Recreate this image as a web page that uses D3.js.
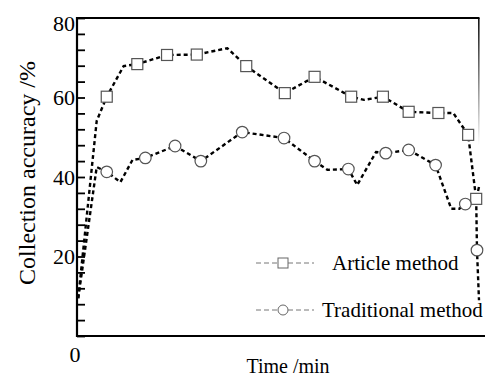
<!DOCTYPE html>
<html>
<head>
<meta charset="utf-8">
<script src="https://cdn.jsdelivr.net/npm/d3@7"></script>
<style>
  body { margin: 0; background: #fff; }
  text { font-family: "Liberation Serif", "Times New Roman", serif; fill: #000; }
</style>
</head>
<body>
<div id="chart"></div>
<script>
// Article method (squares); marker flag says where a square is drawn
const articleTime   = [0.3, 4.9, 7.4, 11.6, 15.0, 22.4, 29.8, 37.4, 42.1, 51.7, 59.1, 68.2, 71.4, 76.1, 82.5, 89.9, 93.6, 97.3, 99.3, 100];
const articleValue  = [9.5, 54.1, 60.2, 67.9, 68.4, 70.7, 70.8, 72.4, 67.9, 61.1, 65.2, 60.2, 59.4, 60.2, 56.4, 56.1, 56.1, 50.6, 34.5, 37.5];
const articleMarker = [0, 0, 1, 0, 1, 1, 1, 0, 1, 1, 1, 1, 0, 1, 1, 1, 0, 1, 1, 0];

// Traditional method (circles)
const tradTime   = [0.3, 4.9, 7.4, 10.8, 13.8, 17.0, 24.4, 30.8, 41.1, 51.5, 59.1, 62.3, 67.5, 69.7, 74.4, 76.8, 82.5, 89.2, 93.1, 95.1, 96.6, 99.3, 99.5, 100];
const tradValue  = [9.5, 42.5, 41.3, 38.7, 44.3, 44.8, 47.8, 44.0, 51.3, 49.8, 44.0, 41.8, 42.0, 38.0, 46.3, 46.0, 46.8, 43.0, 32.0, 32.0, 33.2, 34.5, 21.6, 9.0];
const tradMarker = [0, 0, 1, 0, 0, 1, 1, 1, 1, 1, 1, 0, 1, 0, 0, 1, 1, 1, 0, 0, 1, 0, 1, 0];

const yTicks = [0, 20, 40, 60, 80];
const legendLabels = ["Article method", "Traditional method"];

const width = 485, height = 376;
const margin = { top: 18, right: 2, bottom: 40, left: 77 };
const innerW = width - margin.left - margin.right;
const innerH = height - margin.top - margin.bottom;

const svg = d3.select("#chart").append("svg")
    .attr("width", width)
    .attr("height", height);

const g = svg.append("g")
    .attr("transform", `translate(${margin.left}, ${margin.top})`);

const x = d3.scaleLinear().domain([0, 100]).range([0, innerW - 4]);
const y = d3.scaleLinear().domain([0, 80]).range([innerH, 0]);

// right frame line fades out downwards
const grad = svg.append("defs").append("linearGradient")
    .attr("id", "fade").attr("x1", 0).attr("y1", 0).attr("x2", 0).attr("y2", 1);
grad.append("stop").attr("offset", "0%").attr("stop-color", "#111");
grad.append("stop").attr("offset", "40%").attr("stop-color", "#fff");

g.append("rect")
    .attr("x", innerW - 5).attr("y", 0)
    .attr("width", 1.6).attr("height", innerH)
    .attr("fill", "url(#fade)");

// top frame line
g.append("line")
    .attr("x1", 0).attr("x2", innerW - 3.5)
    .attr("y1", 0).attr("y2", 0)
    .attr("stroke", "#000").attr("stroke-width", 2.2);

// bottom axis line
g.append("line")
    .attr("x1", 0).attr("x2", innerW + 2)
    .attr("y1", innerH).attr("y2", innerH)
    .attr("stroke", "#000").attr("stroke-width", 2.2);

// left axis with inward ticks
const yAxis = g.append("g")
    .call(d3.axisRight(y).tickValues(d3.range(0, 81, 4)).tickSize(8).tickFormat(""));
yAxis.select(".domain").remove();
yAxis.selectAll("line").attr("stroke", "#000").attr("stroke-width", 1.8);

g.append("line")
    .attr("x1", 0).attr("x2", 0)
    .attr("y1", -1).attr("y2", innerH + 1)
    .attr("stroke", "#000").attr("stroke-width", 2.2);

g.selectAll(".ylab")
    .data(yTicks.filter(d => d > 0))
    .enter().append("text")
    .attr("x", -2)
    .attr("y", d => y(d) + (d === 80 ? 5 : 0))
    .attr("dy", "0.35em")
    .attr("text-anchor", "end")
    .style("font-size", "22px")
    .text(d => d);

g.append("text")
    .attr("x", -2).attr("y", innerH + 18)
    .attr("dy", "0.35em")
    .attr("text-anchor", "middle")
    .style("font-size", "22px")
    .text("0");

g.append("text")
    .attr("x", 211).attr("y", innerH + 30)
    .attr("dy", "0.35em")
    .attr("text-anchor", "middle")
    .style("font-size", "20px")
    .text("Time /min");

svg.append("text")
    .attr("transform", `translate(27, 173) rotate(-90)`)
    .attr("dy", "0.35em")
    .attr("text-anchor", "middle")
    .style("font-size", "24px")
    .text("Collection accuracy /%");

const line = d3.line()
    .x(d => x(d.t))
    .y(d => y(d.v));

const article = articleTime.map((t, i) => ({ t, v: articleValue[i], m: articleMarker[i] }));
const trad = tradTime.map((t, i) => ({ t, v: tradValue[i], m: tradMarker[i] }));

[trad, article].forEach(series => {
    g.append("path")
        .datum(series)
        .attr("fill", "none")
        .attr("stroke", "#000")
        .attr("stroke-width", 2.4)
        .attr("stroke-dasharray", "4,3")
        .attr("d", line);
});

g.selectAll(".sq")
    .data(article.filter(d => d.m))
    .enter().append("rect")
    .attr("x", d => x(d.t) - 5.5)
    .attr("y", d => y(d.v) - 5.5)
    .attr("width", 11).attr("height", 11)
    .attr("fill", "#fff")
    .attr("stroke", "#555")
    .attr("stroke-width", 1.2);

g.selectAll(".ci")
    .data(trad.filter(d => d.m))
    .enter().append("circle")
    .attr("cx", d => x(d.t))
    .attr("cy", d => y(d.v))
    .attr("r", 5.8)
    .attr("fill", "#fff")
    .attr("stroke", "#555")
    .attr("stroke-width", 1.2);

// legend
const legend = svg.append("g");
const legendY = [263, 310];
legendLabels.forEach((label, i) => {
    const ly = legendY[i];
    legend.append("line")
        .attr("x1", 256).attr("x2", 314)
        .attr("y1", ly).attr("y2", ly)
        .attr("stroke", "#777")
        .attr("stroke-width", 1)
        .attr("stroke-dasharray", "5,3");
    if (i === 0) {
        legend.append("rect")
            .attr("x", 278).attr("y", ly - 5)
            .attr("width", 10).attr("height", 10)
            .attr("fill", "#fff").attr("stroke", "#666").attr("stroke-width", 1);
    } else {
        legend.append("circle")
            .attr("cx", 283).attr("cy", ly).attr("r", 5)
            .attr("fill", "#fff").attr("stroke", "#666").attr("stroke-width", 1);
    }
    legend.append("text")
        .attr("x", i === 0 ? 332 : 322)
        .attr("y", ly)
        .attr("dy", "0.35em")
        .style("font-size", "21px")
        .text(label);
});
</script>
</body>
</html>
